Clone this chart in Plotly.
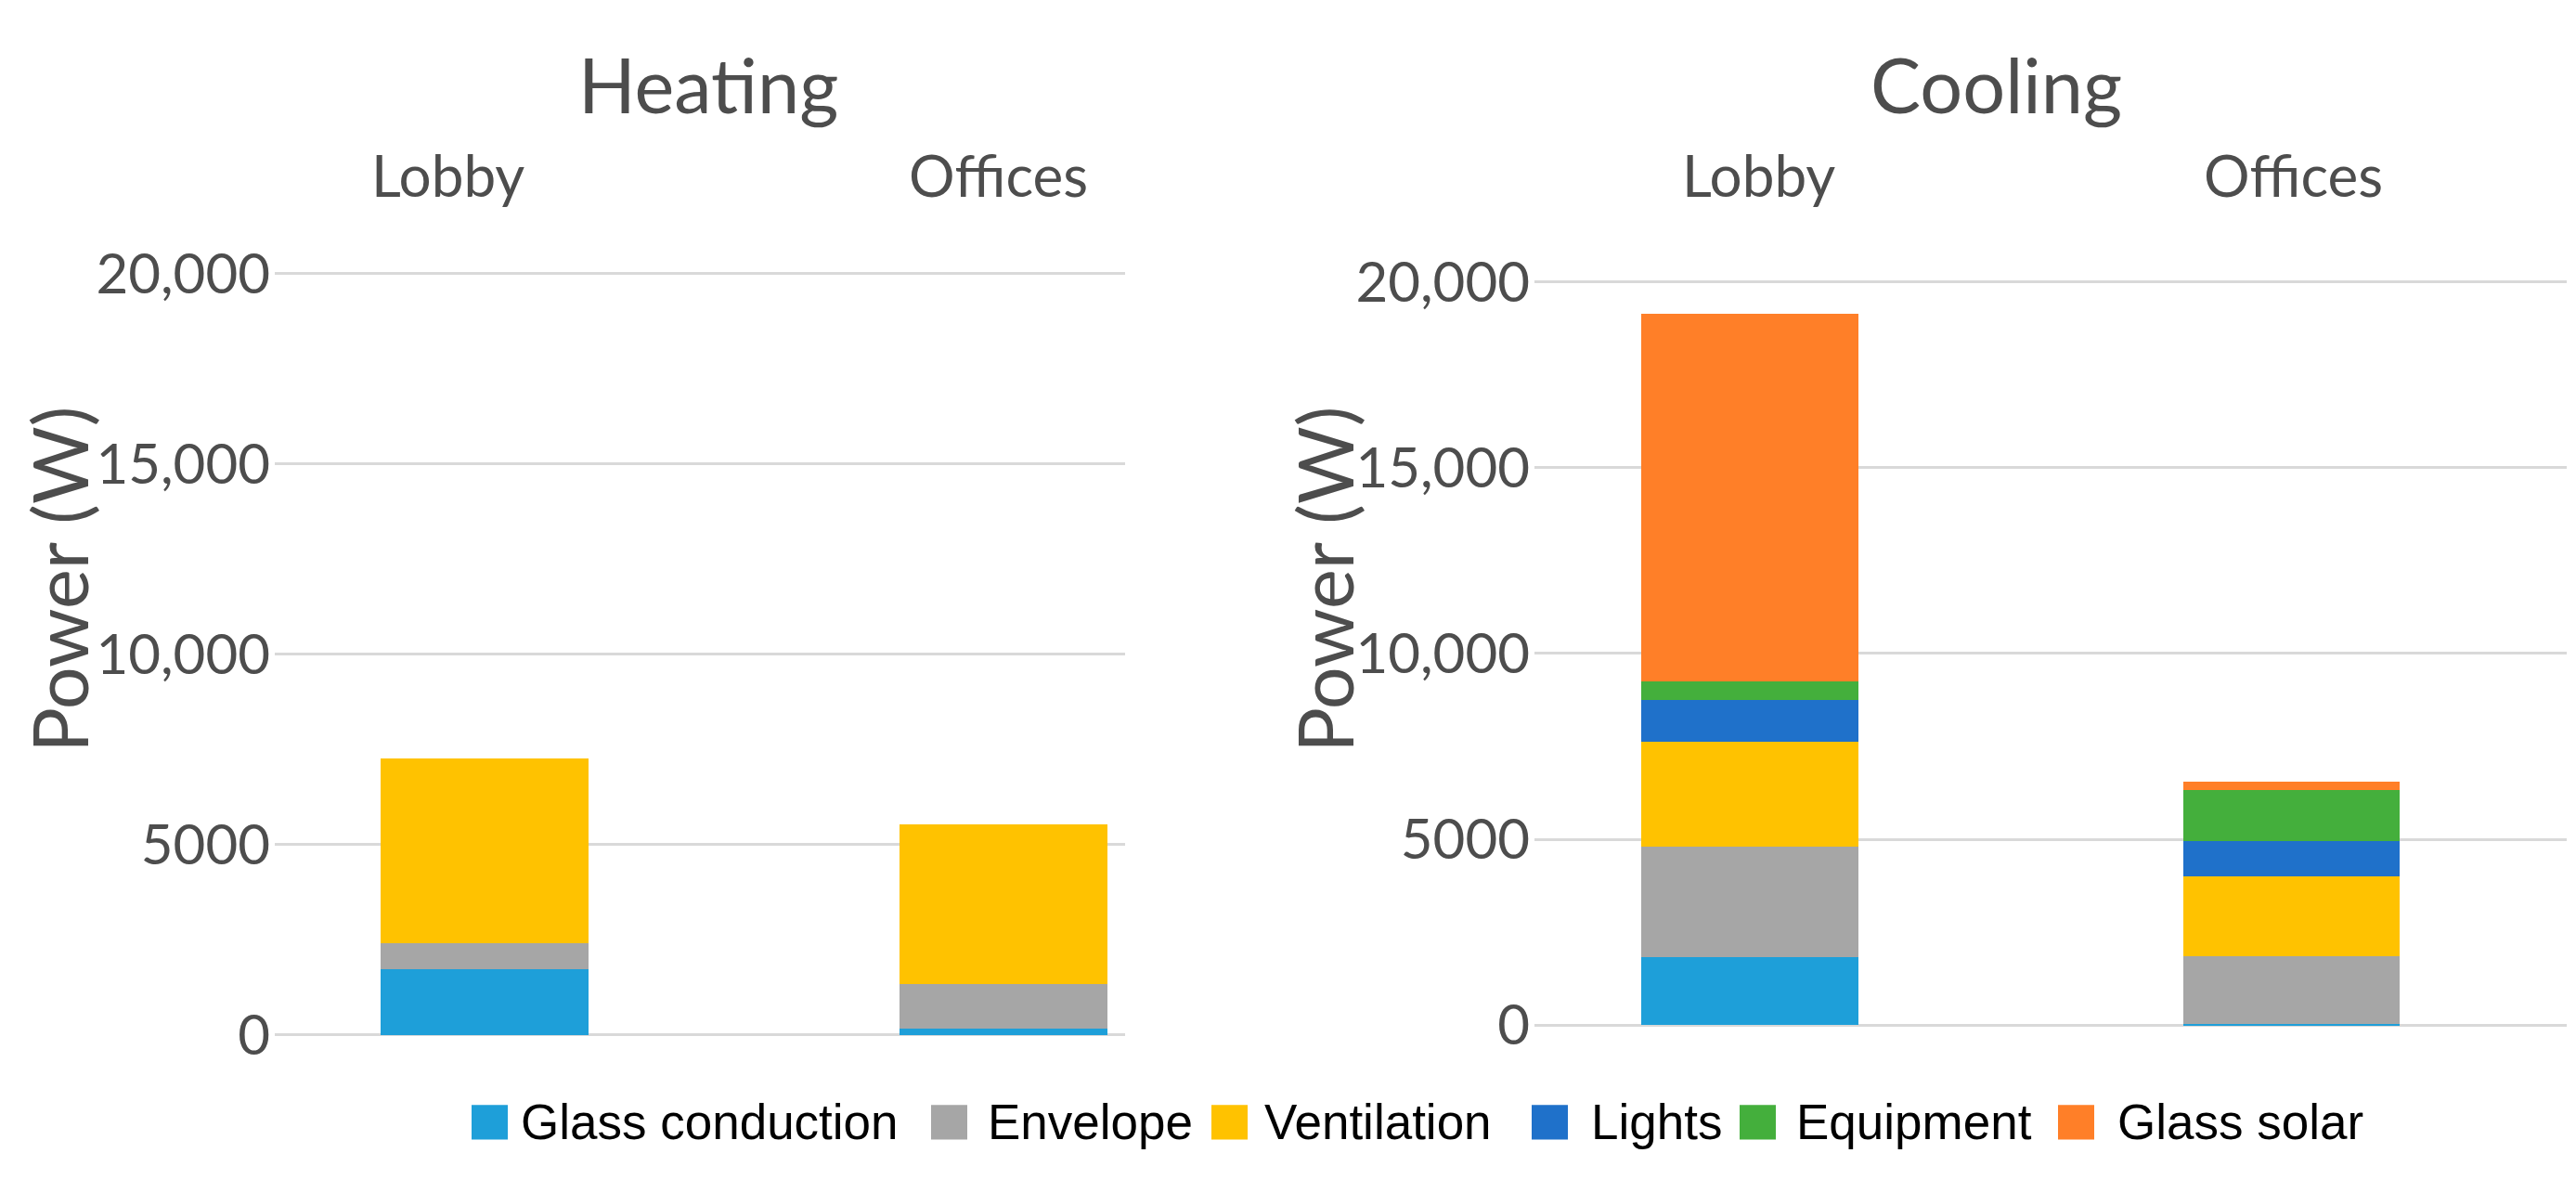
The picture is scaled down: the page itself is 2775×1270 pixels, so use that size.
import plotly.graph_objects as go

W, H = 2775, 1270

categories = ["Lobby", "Offices"]
series_names = ["Glass conduction", "Envelope", "Ventilation", "Lights", "Equipment", "Glass solar"]
series_colors = ["#1E9FD9", "#A6A6A6", "#FFC200", "#1F71CA", "#44AF3C", "#FF7F28"]

heating_values = {
    "Glass conduction": [1730, 150],
    "Envelope": [680, 1180],
    "Ventilation": [4840, 4190],
    "Lights": [0, 0],
    "Equipment": [0, 0],
    "Glass solar": [0, 0],
}
cooling_values = {
    "Glass conduction": [1820, 30],
    "Envelope": [2990, 1820],
    "Ventilation": [2810, 2150],
    "Lights": [1140, 960],
    "Equipment": [490, 1360],
    "Glass solar": [9880, 240],
}

tick_vals = [0, 5000, 10000, 15000, 20000]
tick_text = ["0", "5000", "10,000", "15,000", "20,000"]
panel_titles = ["Heating", "Cooling"]
y_title = "Power (W)"

TXT = "#4D4D4D"
FONT = "Lato"


def px(x):
    return x / W


def py(y):
    return 1 - y / H


fig = go.Figure()

for name, color in zip(series_names, series_colors):
    fig.add_trace(go.Bar(x=categories, y=heating_values[name], name=name,
                         marker=dict(color=color, line=dict(width=0)),
                         width=0.4, xaxis="x", yaxis="y", showlegend=False))
for name, color in zip(series_names, series_colors):
    fig.add_trace(go.Bar(x=categories, y=cooling_values[name], name=name,
                         marker=dict(color=color, line=dict(width=0)),
                         width=0.4, xaxis="x2", yaxis="y2", showlegend=False))

yax_common = dict(tickvals=tick_vals, ticktext=tick_text, showgrid=True,
                  gridcolor="#D9D9D9", gridwidth=3, zeroline=False, showline=False,
                  ticks="", tickfont=dict(family=FONT, size=60, color=TXT),
                  ticklabelstandoff=4)
xax_common = dict(showticklabels=False, showgrid=False, zeroline=False, showline=False,
                  ticks="", type="category")

fig.update_layout(
    width=W, height=H,
    margin=dict(l=0, r=0, t=0, b=0),
    paper_bgcolor="white", plot_bgcolor="white",
    barmode="stack", bargap=0,
    xaxis=dict(domain=[px(288), px(1204)], range=[-0.404, 1.234], **xax_common),
    yaxis=dict(domain=[py(1135), py(260)], range=[-210.5, 20257], **yax_common),
    xaxis2=dict(domain=[px(1645), px(2757)], range=[-0.398, 1.509], anchor="y2", **xax_common),
    yaxis2=dict(domain=[py(1124), py(269)], range=[-215.6, 20263.5], anchor="x2", **yax_common),
    showlegend=False,
)

annotations = []
# panel titles
for title, cx in zip(panel_titles, [755, 2142]):
    annotations.append(dict(text=title, x=px(cx), y=py(58), xref="paper", yref="paper",
                            xanchor="center", yanchor="middle", showarrow=False,
                            font=dict(family=FONT, size=81, color=TXT)))
# category header labels
for cx, lab in zip([474, 1067, 1886, 2462], categories * 2):
    annotations.append(dict(text=lab, x=px(cx), y=py(160), xref="paper", yref="paper",
                            xanchor="center", yanchor="middle", showarrow=False,
                            font=dict(family=FONT, size=62, color=TXT)))
# y titles
for cx in [56, 1419]:
    annotations.append(dict(text=y_title, x=px(cx), y=py(615), xref="paper", yref="paper",
                            xanchor="center", yanchor="middle", showarrow=False, textangle=-90,
                            font=dict(family=FONT, size=81, color=TXT)))

# legend
sq_left = [500, 995, 1297, 1642, 1866, 2209]
txt_left = [551, 1054, 1352, 1704, 1925, 2271]
shapes = []
for name, color, sx, tx in zip(series_names, series_colors, sq_left, txt_left):
    shapes.append(dict(type="rect", xref="paper", yref="paper",
                       x0=px(sx), x1=px(sx + 39), y0=py(1243.5), y1=py(1204.5),
                       fillcolor=color, line=dict(width=0)))
    annotations.append(dict(text=name, x=px(tx), y=py(1224), xref="paper", yref="paper",
                            xanchor="left", yanchor="middle", showarrow=False,
                            font=dict(family="Liberation Sans", size=53, color="#000000")))

fig.update_layout(annotations=annotations, shapes=shapes)

fig.write_html("out.html")
